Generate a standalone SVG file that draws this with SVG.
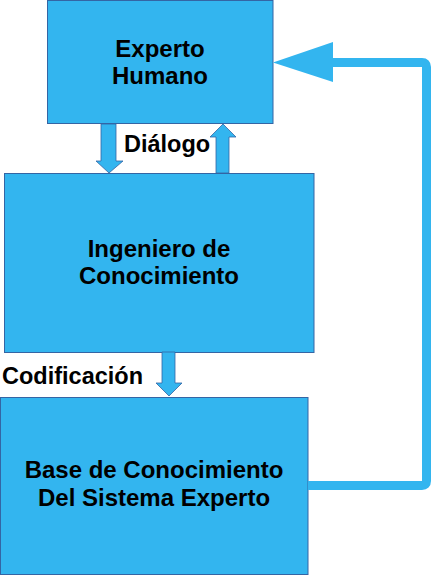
<svg xmlns="http://www.w3.org/2000/svg" width="431" height="575" viewBox="0 0 431 575">
<style>
.box{fill:#33b5ef;stroke:#3465a4;stroke-width:1}
.arr{fill:#33b5ef;stroke:#3465a4;stroke-width:0.8}
.t{font-family:"Liberation Sans",Arial,sans-serif;font-weight:bold;font-size:24px;fill:#000;text-anchor:middle}
.l{font-family:"Liberation Sans",Arial,sans-serif;font-weight:bold;font-size:23.5px;fill:#000}
</style>
<rect width="431" height="575" fill="#fff"/>
<g id="experto">
<rect class="box" x="47.5" y="0.5" width="225.5" height="123"/>
<text class="t" x="160" y="57">Experto</text>
<text class="t" x="160" y="84">Humano</text>
</g>
<g id="ingeniero">
<rect class="box" x="4.5" y="173.5" width="309.5" height="179"/>
<text class="t" x="159" y="257">Ingeniero de</text>
<text class="t" x="159" y="284">Conocimiento</text>
</g>
<g id="base">
<rect class="box" x="0.5" y="397.5" width="307.5" height="177"/>
<text class="t" x="154" y="478">Base de Conocimiento</text>
<text class="t" x="154" y="506">Del Sistema Experto</text>
</g>
<g id="connectors">
<polygon class="arr" points="101,124 116,124 116,161 123,161 109,173 96,161 101,161"/>
<polygon class="arr" points="216,173 229,173 229,137 236,137 223,124 210,137 216,137"/>
<polygon class="arr" points="162,352 175,352 175,383 182,383 169,396 156,383 162,383"/>
<path d="M308,485.5 H422 Q426.5,485.5 426.5,481 V67 Q426.5,62.5 422,62.5 H330" fill="none" stroke="#33b5ef" stroke-width="9"/>
<polygon points="273,62.5 333,42 333,82" fill="#33b5ef"/>
<text class="l" x="124" y="152">Diálogo</text>
<text class="l" x="2" y="384">Codificación</text>
</g>
</svg>
